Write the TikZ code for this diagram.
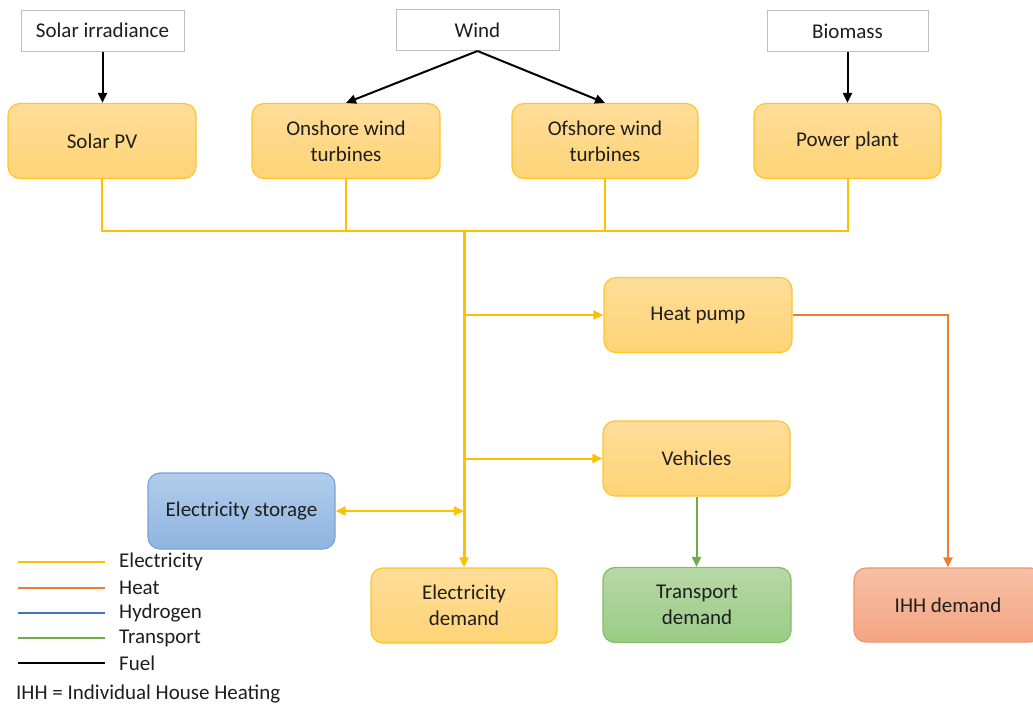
\documentclass[tikz,border=0pt]{standalone}
\usepackage{fontspec}
\setmainfont{Carlito}
\usetikzlibrary{arrows.meta}
\definecolor{txt}{RGB}{30,30,30}
\definecolor{srcb}{RGB}{191,191,191}
\definecolor{ylwT}{RGB}{255,221,153}
\definecolor{ylwB}{RGB}{255,212,118}
\definecolor{ylwD}{RGB}{255,196,40}
\definecolor{bluT}{RGB}{178,205,235}
\definecolor{bluB}{RGB}{143,180,225}
\definecolor{bluD}{RGB}{122,163,216}
\definecolor{grnT}{RGB}{183,216,168}
\definecolor{grnB}{RGB}{155,203,133}
\definecolor{grnD}{RGB}{130,189,102}
\definecolor{orgT}{RGB}{247,192,166}
\definecolor{orgB}{RGB}{244,165,130}
\definecolor{orgD}{RGB}{240,150,106}
\definecolor{cElec}{RGB}{255,192,0}
\definecolor{cHeat}{RGB}{237,125,49}
\definecolor{cHyd}{RGB}{68,114,196}
\definecolor{cTrans}{RGB}{112,173,71}
\tikzset{
  every node/.style={font=\fontsize{21}{26}\selectfont, text=txt, inner sep=0pt},
  srcbox/.style={draw=srcb, line width=1pt, fill=white, align=center},
  procbox/.style={rounded corners=12pt, line width=1.2pt, align=center, minimum width=188pt, minimum height=75pt},
  ybox/.style={procbox, draw=ylwD, top color=ylwT, bottom color=ylwB},
  bbox/.style={procbox, draw=bluD, top color=bluT, bottom color=bluB},
  gbox/.style={procbox, draw=grnD, top color=grnT, bottom color=grnB},
  obox/.style={procbox, draw=orgD, top color=orgT, bottom color=orgB},
  tip/.style={-{Triangle[length=10pt,width=9pt]}},
  elec/.style={draw=cElec, line width=2pt},
  bus/.style={draw=cElec, line width=3pt},
  heat/.style={draw=cHeat, line width=2pt},
  hyd/.style={draw=cHyd, line width=2pt},
  trans/.style={draw=cTrans, line width=2pt},
  fuel/.style={draw=black, line width=2pt},
  legtext/.style={anchor=west, font=\fontsize{21}{25}\selectfont},
}
\begin{document}
\begin{tikzpicture}[x=1pt, y=-1pt]
\useasboundingbox (0,0) rectangle (1033,704);
% sources
\node[srcbox, minimum width=163pt, minimum height=41pt] (sirr) at (102.5,30.5) {Solar irradiance};
\node[srcbox, minimum width=163pt, minimum height=41pt] (wind) at (477.5,30) {Wind};
\node[srcbox, minimum width=161pt, minimum height=41pt] (bio) at (847.5,31) {Biomass};
% producers
\node[ybox] (pv) at (102,141) {Solar PV};
\node[ybox] (on) at (346,141) {Onshore wind\\turbines};
\node[ybox, minimum width=186pt] (off) at (605,141) {Ofshore wind\\turbines};
\node[ybox, minimum width=187pt] (pp) at (847.5,141) {Power plant};
% converters and demand
\node[ybox] (hp) at (698,315) {Heat pump};
\node[ybox, minimum width=187pt] (veh) at (696.5,458.5) {Vehicles};
\node[gbox] (td) at (697,605) {Transport\\demand};
\node[obox, minimum height=74pt] (ihh) at (948,605) {IHH demand};
\node[bbox, minimum width=187pt, minimum height=76pt] (es) at (241.5,511) {Electricity storage};
\node[ybox, minimum width=186pt] (ed) at (464,605.5) {Electricity\\demand};
% fuel arrows
\draw[fuel, tip] (sirr.south) -- (sirr.south |- pv.north);
\draw[fuel, tip] (wind.south) -- (on.north);
\draw[fuel, tip] (wind.south) -- (off.north);
\draw[fuel, tip] (bio.south) -- (bio.south |- pp.north);
% electricity bus
\coordinate (bus) at (464,231);
\draw[elec] (pv.south) |- (bus);
\draw[elec] (on.south) -- (on.south |- bus);
\draw[elec] (off.south) |- (bus);
\draw[elec] (pp.south) |- (bus);
\draw[bus, tip] (bus) -- (ed.north);
\draw[elec, tip] (bus |- hp.west) -- (hp.west);
\draw[elec, tip] (bus |- veh.west) -- (veh.west);
\draw[elec, {Triangle[length=10pt,width=9pt]}-{Triangle[length=10pt,width=9pt]}] (es.east) -- (bus |- es.east);
% heat and transport
\draw[heat, tip] (hp.east) -| (ihh.north);
\draw[trans, tip] (veh.south) -- (veh.south |- td.north);
% legend
\coordinate (l1a) at (18,562); \coordinate (l1b) at (105,562);
\coordinate (l2a) at (18,588); \coordinate (l2b) at (105,588);
\coordinate (l3a) at (18,613); \coordinate (l3b) at (105,613);
\coordinate (l4a) at (18,638); \coordinate (l4b) at (105,638);
\coordinate (l5a) at (18,663); \coordinate (l5b) at (105,663);
\draw[elec] (l1a) -- (l1b);
\draw[heat] (l2a) -- (l2b);
\draw[hyd] (l3a) -- (l3b);
\draw[trans] (l4a) -- (l4b);
\draw[fuel] (l5a) -- (l5b);
\node[legtext] (t1) at (119,562) {Electricity};
\node[legtext] (t2) at (119,588) {Heat};
\node[legtext] (t3) at (119,613) {Hydrogen};
\node[legtext] (t4) at (119,638) {Transport};
\node[legtext] (t5) at (119,663) {Fuel};
\node[legtext] (foot) at (16,694) {IHH = Individual House Heating};
\end{tikzpicture}
\end{document}
